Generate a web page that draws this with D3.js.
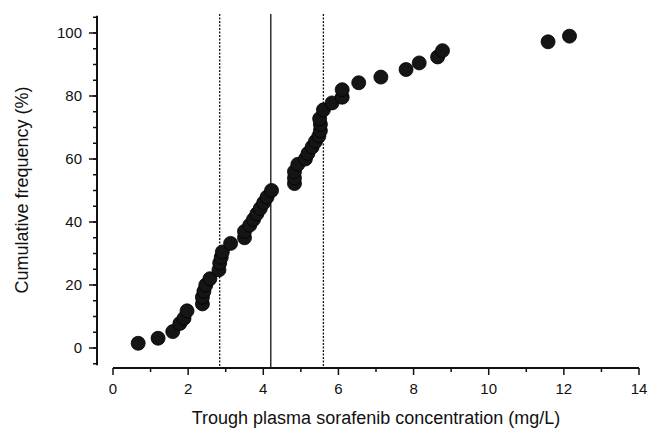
<!DOCTYPE html>
<html>
<head>
<meta charset="utf-8">
<script src="https://cdn.jsdelivr.net/npm/d3@7"></script>
<style>
 body { margin: 0; background: #fff; }
 text { font-family: "Liberation Sans", Arial, sans-serif; fill: #111; }
</style>
</head>
<body>
<script>
// trough concentration (mg/L) and cumulative frequency (%)
var conc = [0.67, 1.20, 1.59, 1.78, 1.89, 1.97, 2.38, 2.38, 2.42, 2.47, 2.58, 2.82, 2.84, 2.88, 2.91, 3.13,
 3.50, 3.50, 3.64, 3.74, 3.83, 3.92, 4.01, 4.10, 4.22,
 4.83, 4.83, 4.83, 4.92, 5.12, 5.19, 5.30, 5.39, 5.48, 5.52, 5.52, 5.50, 5.60, 5.83, 6.10, 6.10,
 6.54, 7.13, 7.80, 8.15, 8.64, 8.77, 11.58, 12.15];
var cumFreq = [1.5, 3.1, 5.2, 7.8, 9.4, 11.8, 14.0, 16.1, 18.0, 20.0, 22.0, 24.8, 27.0, 28.8, 30.5, 33.2,
 35.0, 37.0, 39.0, 40.8, 42.6, 44.3, 46.1, 47.9, 50.0,
 52.2, 54.0, 56.0, 58.3, 60.0, 61.8, 63.8, 65.6, 67.3, 69.0, 71.0, 72.8, 75.6, 77.8, 79.6, 82.0,
 84.2, 86.0, 88.4, 90.5, 92.4, 94.4, 97.2, 99.0];
var xTicks = [0, 2, 4, 6, 8, 10, 12, 14];
var yTicks = [0, 20, 40, 60, 80, 100];
var refLines = [{v: 2.84, dash: true}, {v: 4.2, dash: false}, {v: 5.6, dash: true}];

var svg = d3.select("body").append("svg").attr("width", 651).attr("height", 429);

var x = d3.scaleLinear().domain([0, 14]).range([113, 639]);
var y = d3.scaleLinear().domain([0, 100]).range([348, 33]);

// y axis (offset to the left of the plot)
var yAx = svg.append("g").attr("transform", "translate(97,0)");
yAx.append("line").attr("x1", 0).attr("x2", 0).attr("y1", y(105.5)).attr("y2", y(-5.5))
 .attr("stroke", "#111").attr("stroke-width", 2);
yAx.selectAll(".minor").data(d3.range(-5, 106, 5)).enter().append("line")
 .attr("x1", -4).attr("x2", 0).attr("y1", function(d) { return y(d); }).attr("y2", function(d) { return y(d); })
 .attr("stroke", "#111").attr("stroke-width", 1.5);
yAx.selectAll(".major").data(yTicks).enter().append("line")
 .attr("x1", -8).attr("x2", 0).attr("y1", function(d) { return y(d); }).attr("y2", function(d) { return y(d); })
 .attr("stroke", "#111").attr("stroke-width", 1.5);
yAx.selectAll(".lab").data(yTicks).enter().append("text")
 .attr("x", -15).attr("y", function(d) { return y(d) + 5; })
 .attr("text-anchor", "end").attr("font-size", 15).text(function(d) { return d; });

// x axis
var xAx = svg.append("g").attr("transform", "translate(0,368)");
xAx.append("line").attr("x1", x(0)).attr("x2", x(14)).attr("y1", 0).attr("y2", 0)
 .attr("stroke", "#111").attr("stroke-width", 2);
xAx.selectAll(".minor").data(d3.range(0, 15, 1)).enter().append("line")
 .attr("x1", function(d) { return x(d); }).attr("x2", function(d) { return x(d); })
 .attr("y1", 0).attr("y2", function(d) { return d % 2 == 0 ? 7 : 4; })
 .attr("stroke", "#111").attr("stroke-width", 1.5);
xAx.selectAll(".lab").data(xTicks).enter().append("text")
 .attr("x", function(d) { return x(d); }).attr("y", 26)
 .attr("text-anchor", "middle").attr("font-size", 15).text(function(d) { return d; });

// reference lines
svg.selectAll(".ref").data(refLines).enter().append("line")
 .attr("x1", function(d) { return x(d.v); }).attr("x2", function(d) { return x(d.v); })
 .attr("y1", 14).attr("y2", 367)
 .attr("stroke", "#111").attr("stroke-width", 1.3)
 .attr("stroke-dasharray", function(d) { return d.dash ? "2,1.5" : null; });

// points
svg.selectAll("circle").data(conc).enter().append("circle")
 .attr("cx", function(d) { return x(d); })
 .attr("cy", function(d, i) { return y(cumFreq[i]); })
 .attr("r", 7).attr("fill", "#151515").attr("stroke", "#000").attr("stroke-width", 0.8);

// titles
svg.append("text").attr("x", x(7)).attr("y", 424).attr("text-anchor", "middle")
 .attr("font-size", 18).text("Trough plasma sorafenib concentration (mg/L)");
svg.append("text").attr("transform", "translate(28,190) rotate(-90)").attr("text-anchor", "middle")
 .attr("font-size", 18).text("Cumulative frequency (%)");
</script>
</body>
</html>
